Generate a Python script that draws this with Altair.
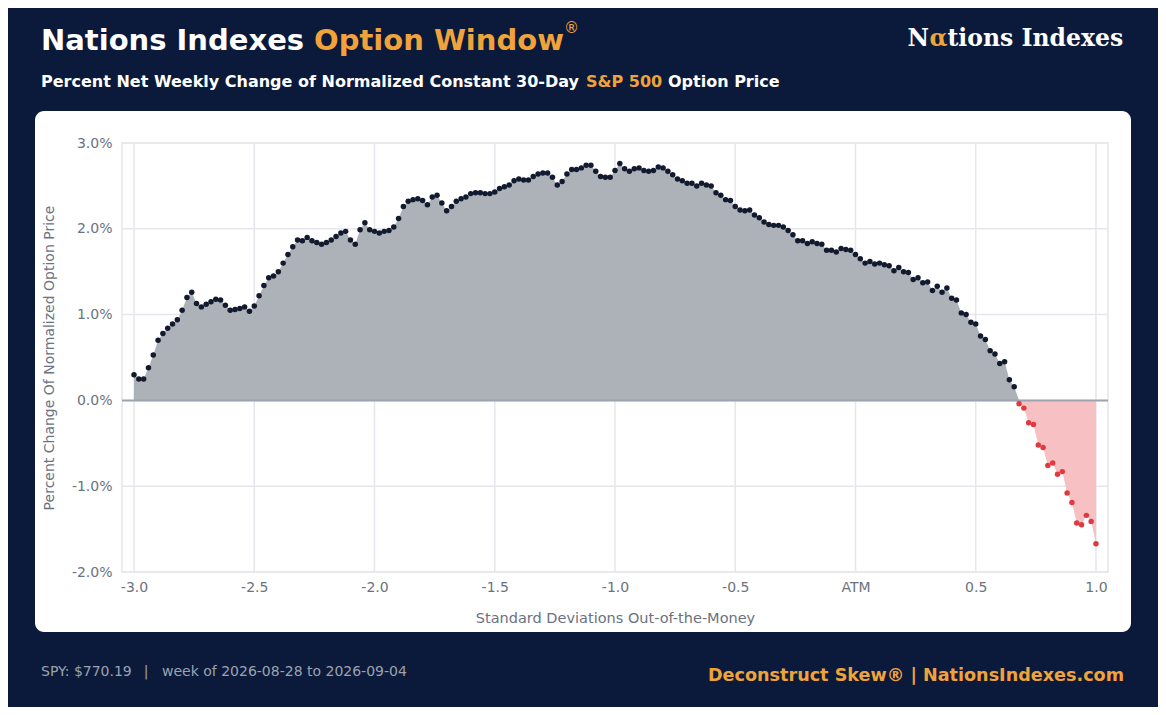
import altair as alt
import pandas as pd

# colours
NAVY = "#0b1a3a"
ORANGE = "#f0a33a"
WHITE = "#ffffff"
AXIS_GRAY = "#6b7280"
FOOT_GRAY = "#9ca3af"
GRID = "#e6e6ec"
AREA_POS = "#adb1b8"
AREA_NEG = "#f7c0c3"
DOT_POS = "#111a2e"
DOT_NEG = "#e03a40"
ZERO_LINE = "#9ca3af"

# standard deviations out-of-the-money
sd = [
    -3.00, -2.98, -2.96, -2.94, -2.92, -2.90, -2.88, -2.86, -2.84, -2.82,
    -2.80, -2.78, -2.76, -2.74, -2.72, -2.70, -2.68, -2.66, -2.64, -2.62,
    -2.60, -2.58, -2.56, -2.54, -2.52, -2.50, -2.48, -2.46, -2.44, -2.42,
    -2.40, -2.38, -2.36, -2.34, -2.32, -2.30, -2.28, -2.26, -2.24, -2.22,
    -2.20, -2.18, -2.16, -2.14, -2.12, -2.10, -2.08, -2.06, -2.04, -2.02,
    -2.00, -1.98, -1.96, -1.94, -1.92, -1.90, -1.88, -1.86, -1.84, -1.82,
    -1.80, -1.78, -1.76, -1.74, -1.72, -1.70, -1.68, -1.66, -1.64, -1.62,
    -1.60, -1.58, -1.56, -1.54, -1.52, -1.50, -1.48, -1.46, -1.44, -1.42,
    -1.40, -1.38, -1.36, -1.34, -1.32, -1.30, -1.28, -1.26, -1.24, -1.22,
    -1.20, -1.18, -1.16, -1.14, -1.12, -1.10, -1.08, -1.06, -1.04, -1.02,
    -1.00, -0.98, -0.96, -0.94, -0.92, -0.90, -0.88, -0.86, -0.84, -0.82,
    -0.80, -0.78, -0.76, -0.74, -0.72, -0.70, -0.68, -0.66, -0.64, -0.62,
    -0.60, -0.58, -0.56, -0.54, -0.52, -0.50, -0.48, -0.46, -0.44, -0.42,
    -0.40, -0.38, -0.36, -0.34, -0.32, -0.30, -0.28, -0.26, -0.24, -0.22,
    -0.20, -0.18, -0.16, -0.14, -0.12, -0.10, -0.08, -0.06, -0.04, -0.02,
    0.00, 0.02, 0.04, 0.06, 0.08, 0.10, 0.12, 0.14, 0.16, 0.18,
    0.20, 0.22, 0.24, 0.26, 0.28, 0.30, 0.32, 0.34, 0.36, 0.38,
    0.40, 0.42, 0.44, 0.46, 0.48, 0.50, 0.52, 0.54, 0.56, 0.58,
    0.60, 0.62, 0.64, 0.66, 0.68, 0.70, 0.72, 0.74, 0.76, 0.78,
    0.80, 0.82, 0.84, 0.86, 0.88, 0.90, 0.92, 0.94, 0.96, 0.98,
    1.00,
]

# percent net weekly change of normalized option price
pct_change = [
    0.30, 0.25, 0.25, 0.38, 0.53, 0.70, 0.78, 0.84, 0.89, 0.94,
    1.05, 1.20, 1.26, 1.13, 1.09, 1.12, 1.15, 1.18, 1.17, 1.11,
    1.05, 1.06, 1.07, 1.09, 1.04, 1.10, 1.22, 1.34, 1.43, 1.45,
    1.50, 1.60, 1.70, 1.79, 1.87, 1.86, 1.90, 1.86, 1.84, 1.82,
    1.84, 1.87, 1.91, 1.95, 1.97, 1.87, 1.82, 1.99, 2.07, 1.99,
    1.97, 1.95, 1.97, 1.98, 2.02, 2.12, 2.26, 2.32, 2.34, 2.35,
    2.33, 2.28, 2.37, 2.39, 2.30, 2.21, 2.26, 2.32, 2.35, 2.37,
    2.41, 2.42, 2.42, 2.41, 2.41, 2.43, 2.47, 2.49, 2.51, 2.56,
    2.58, 2.57, 2.57, 2.61, 2.64, 2.65, 2.65, 2.60, 2.51, 2.55,
    2.64, 2.69, 2.69, 2.71, 2.74, 2.74, 2.67, 2.61, 2.60, 2.60,
    2.68, 2.76, 2.70, 2.67, 2.70, 2.71, 2.68, 2.67, 2.68, 2.72,
    2.71, 2.67, 2.63, 2.58, 2.56, 2.53, 2.53, 2.50, 2.53, 2.51,
    2.50, 2.42, 2.39, 2.34, 2.33, 2.26, 2.22, 2.21, 2.22, 2.16,
    2.13, 2.08, 2.05, 2.04, 2.04, 2.02, 1.98, 1.93, 1.86, 1.86,
    1.83, 1.85, 1.83, 1.82, 1.75, 1.75, 1.73, 1.77, 1.76, 1.75,
    1.70, 1.65, 1.60, 1.62, 1.59, 1.60, 1.58, 1.57, 1.51, 1.55,
    1.50, 1.49, 1.41, 1.43, 1.37, 1.38, 1.28, 1.33, 1.26, 1.31,
    1.19, 1.17, 1.02, 1.00, 0.91, 0.89, 0.75, 0.71, 0.58, 0.54,
    0.43, 0.45, 0.24, 0.16, -0.04, -0.09, -0.26, -0.28, -0.52, -0.55,
    -0.76, -0.73, -0.86, -0.83, -1.08, -1.19, -1.43, -1.45, -1.34, -1.41,
    -1.67,
]

x_ticks = [-3.0, -2.5, -2.0, -1.5, -1.0, -0.5, 0.0, 0.5, 1.0]
y_ticks = [-2.0, -1.0, 0.0, 1.0, 2.0, 3.0]

spy_price = "770.19"
week_start = "2026-08-28"
week_end = "2026-09-04"

# plot area; the page margin of 8px sits outside the canvas
W, H = 986, 429

df = pd.DataFrame({"sd": sd, "pct": pct_change})
one = pd.DataFrame({"k": [0]})

x_scale = alt.Scale(domain=[-3.05, 1.05], nice=False, zero=False)
y_scale = alt.Scale(domain=[-2.0, 3.0], nice=False, zero=False)


def label(text, x, y, size, color, bold=False, font="DejaVu Sans", align="left"):
    return (
        alt.Chart(one)
        .mark_text(
            align=align,
            baseline="alphabetic",
            font=font,
            fontSize=size,
            fontWeight="bold" if bold else "normal",
            color=color,
        )
        .encode(x=alt.value(x), y=alt.value(y), text=alt.value(text))
    )


# plain hyphen for negatives, like the original
signed = "(datum.value < 0 ? '-' : '') + format(abs(datum.value), '.1f')"

# the axes are defined once here; other layers share them
x_enc = alt.X(
    "sd:Q",
    scale=x_scale,
    axis=alt.Axis(
        values=x_ticks,
        labelExpr=f"datum.value == 0 ? 'ATM' : {signed}",
        title="Standard Deviations Out-of-the-Money",
        titleFontSize=14.5,
        labelPadding=8,
        titlePadding=17,
        zindex=1,
    ),
)
y_enc = alt.Y(
    "pct:Q",
    scale=y_scale,
    axis=alt.Axis(
        values=y_ticks,
        labelExpr=f"{signed} + '%'",
        title="Percent Change Of Normalized Option Price",
        labelPadding=10,
        titlePadding=15,
        zindex=1,
    ),
)

base = alt.Chart(df)

# white card behind the plot
card = (
    alt.Chart(one)
    .mark_rect(color=WHITE, cornerRadius=9)
    .encode(x=alt.value(-87), x2=alt.value(1009), y=alt.value(-32), y2=alt.value(489))
)

frame = (
    alt.Chart(one)
    .mark_rect(filled=False, stroke=GRID, strokeWidth=1.5)
    .encode(x=alt.value(0), x2=alt.value(W), y=alt.value(0), y2=alt.value(H))
)

x_grid = (
    alt.Chart(pd.DataFrame({"sd": x_ticks}))
    .mark_rule(color=GRID, strokeWidth=1.5)
    .encode(x=x_enc)
)

y_grid = (
    alt.Chart(pd.DataFrame({"pct": y_ticks}))
    .mark_rule(color=GRID, strokeWidth=1.5)
    .encode(y=y_enc)
)

pos_area = (
    base.transform_calculate(pos="max(datum.pct, 0)")
    .mark_area(color=AREA_POS, opacity=1)
    .encode(
        x=alt.X("sd:Q", scale=x_scale),
        y=alt.Y("pos:Q", scale=y_scale),
        y2=alt.datum(0),
    )
)

neg_area = (
    base.transform_calculate(neg="min(datum.pct, 0)")
    .mark_area(color=AREA_NEG, opacity=1)
    .encode(
        x=alt.X("sd:Q", scale=x_scale),
        y=alt.Y("neg:Q", scale=y_scale),
        y2=alt.datum(0),
    )
)

zero_line = alt.Chart(one).mark_rule(color=ZERO_LINE, strokeWidth=2).encode(y=alt.datum(0))

points = base.mark_circle(size=30, opacity=1).encode(
    x=x_enc,
    y=y_enc,
    color=alt.condition("datum.pct < 0", alt.value(DOT_NEG), alt.value(DOT_POS)),
)

header = [
    label("Nations Indexes", -81, -93.5, 29, WHITE, bold=True),
    label("Option Window", 192, -93.5, 29, ORANGE, bold=True),
    label("®", 442, -110, 15, ORANGE),
    label("Percent Net Weekly Change of Normalized Constant 30-Day", -81, -56, 16, WHITE, bold=True),
    label("S&P 500", 464, -56, 16, ORANGE, bold=True),
    label("Option Price", 546, -56, 16, WHITE, bold=True),
    label("N", 807, -97, 23.5, WHITE, bold=True, font="DejaVu Serif", align="right"),
    label("α", 807.5, -97, 23.5, ORANGE, bold=True, font="DejaVu Serif"),
    label("tions Indexes", 825.5, -97, 23.5, WHITE, bold=True, font="DejaVu Serif"),
]

footer = [
    label(f"SPY: ${spy_price}", -81, 533, 14, FOOT_GRAY),
    label("|", 24, 533, 14, FOOT_GRAY, align="center"),
    label(f"week of {week_start} to {week_end}", 40, 533, 14, FOOT_GRAY),
    label("Deconstruct Skew® | NationsIndexes.com", 1002, 538, 17.6, ORANGE, bold=True, align="right"),
]

chart = (
    alt.layer(card, y_grid, x_grid, frame, pos_area, neg_area, zero_line, points, *header, *footer)
    .properties(
        width=W,
        height=H,
        background=NAVY,
        padding={"left": 114, "top": 135, "right": 50, "bottom": 135},
        autosize=alt.AutoSizeParams(type="none"),
    )
    .configure_view(stroke=None)
    .configure_axis(
        labelFont="DejaVu Sans",
        labelFontSize=14,
        labelColor=AXIS_GRAY,
        titleFont="DejaVu Sans",
        titleFontSize=14,
        titleFontWeight="normal",
        titleColor=AXIS_GRAY,
        domain=False,
        ticks=False,
        tickSize=0,
        grid=False,
    )
)

chart.save("out.html", embed_options={"renderer": "svg", "actions": False})
